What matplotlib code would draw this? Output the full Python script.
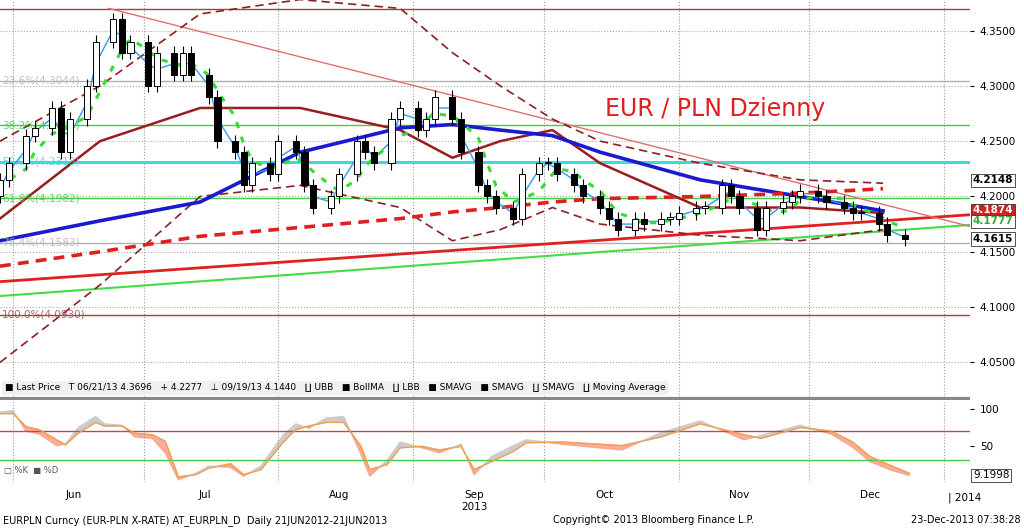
import numpy as np
import pandas as pd
import matplotlib
matplotlib.use("Agg")
import matplotlib.pyplot as plt
import matplotlib.dates as mdates

# ---------------------------------------------------------------- data
closes = [4.200, 4.215, 4.230, 4.255, 4.262, 4.280, 4.240, 4.270, 4.300, 4.340,
          4.360, 4.330, 4.340, 4.300, 4.330, 4.310, 4.330, 4.310, 4.290, 4.250,
          4.240, 4.210, 4.230, 4.220, 4.250, 4.240, 4.210, 4.190, 4.200, 4.220,
          4.250, 4.240, 4.230, 4.270, 4.280, 4.260, 4.270, 4.290, 4.270, 4.240,
          4.210, 4.200, 4.190, 4.180, 4.220, 4.230, 4.230, 4.220, 4.210, 4.200,
          4.190, 4.180, 4.170, 4.180, 4.175, 4.180, 4.180, 4.185, 4.190, 4.190,
          4.210, 4.200, 4.190, 4.170, 4.190, 4.195, 4.200, 4.205, 4.200, 4.195,
          4.190, 4.185, 4.185, 4.175, 4.165, 4.1615]

line_dates = ["2013-05-29", "2013-06-21", "2013-07-14", "2013-08-06", "2013-08-29",
              "2013-09-10", "2013-09-21", "2013-10-03", "2013-10-14", "2013-11-06",
              "2013-11-29", "2013-12-18"]
sma_slow = [4.160, 4.178, 4.195, 4.240, 4.262, 4.265, 4.260, 4.255, 4.240, 4.215, 4.200, 4.187]
boll_ma = [4.180, 4.250, 4.280, 4.280, 4.260, 4.235, 4.250, 4.260, 4.230, 4.190, 4.190, 4.185]
ubb = [4.250, 4.300, 4.365, 4.378, 4.370, 4.330, 4.300, 4.270, 4.250, 4.230, 4.215, 4.212]
lbb = [4.050, 4.120, 4.200, 4.210, 4.190, 4.160, 4.170, 4.190, 4.175, 4.165, 4.160, 4.170]
ma_red = [4.137, 4.150, 4.164, 4.172, 4.180, 4.186, 4.190, 4.195, 4.198, 4.200, 4.203, 4.207]

trend_dates = ["2013-05-29", "2014-01-20"]
trend_red = [4.123, 4.187]
trend_green = [4.110, 4.178]
trend_down_dates = ["2013-06-23", "2014-01-20"]
trend_down = [4.370, 4.160]

fib_levels = [4.3696, 4.3044, 4.2644, 4.2313, 4.1982, 4.1583, 4.0930]
fib_labels = ["0.0%(4.3696)", "23.6%(4.3044)", "38.2%(4.2644)", "50.0%(4.2313)",
              "61.8%(4.1982)", "76.4%(4.1583)", "100.0%(4.0930)"]
fib_colors = ["#a04040", "#b0b0b0", "#44cc44", "#40d8e0", "#44cc44", "#b0b0b0", "#a04040"]

stoch_dates = ["2013-05-29", "2013-06-01", "2013-06-04", "2013-06-07", "2013-06-11",
               "2013-06-13", "2013-06-16", "2013-06-20", "2013-06-22", "2013-06-26",
               "2013-06-29", "2013-07-03", "2013-07-06", "2013-07-09", "2013-07-13",
               "2013-07-16", "2013-07-21", "2013-07-24", "2013-07-28", "2013-08-02",
               "2013-08-05", "2013-08-08", "2013-08-12", "2013-08-16", "2013-08-20",
               "2013-08-22", "2013-08-26", "2013-08-29", "2013-09-03", "2013-09-07",
               "2013-09-12", "2013-09-15", "2013-09-19", "2013-09-24", "2013-09-27",
               "2013-10-05", "2013-10-19", "2013-10-28", "2013-11-06", "2013-11-16",
               "2013-11-20", "2013-11-29", "2013-12-06", "2013-12-11", "2013-12-15",
               "2013-12-20", "2013-12-24"]
stoch_d = [94, 94, 76, 72, 58, 51, 67, 82, 77, 77, 67, 65, 56, 7, 10, 19, 25, 10, 17,
           54, 72, 77, 82, 82, 49, 17, 24, 47, 49, 44, 49, 17, 28, 42, 54,
           55, 50, 62, 80, 65, 60, 75, 70, 55, 35, 22, 12]
stoch_k = [96, 98, 70, 66, 50, 52, 75, 90, 80, 78, 62, 60, 40, 3, 12, 22, 20, 8, 22,
           64, 80, 74, 88, 90, 38, 8, 30, 55, 47, 40, 52, 10, 35, 50, 58,
           52, 44, 68, 84, 58, 64, 78, 66, 48, 28, 16, 9]

month_ticks = ["2013-06-15", "2013-07-15", "2013-08-15", "2013-09-15", "2013-10-15",
               "2013-11-15", "2013-12-15"]
month_labels = ["Jun", "Jul", "Aug", "Sep\n2013", "Oct", "Nov", "Dec"]
month_starts = ["2013-06-01", "2013-07-01", "2013-08-01", "2013-09-01", "2013-10-01",
                "2013-11-01", "2013-12-01", "2014-01-01"]

# ---------------------------------------------------------------- figure
fig = plt.figure(figsize=(10.24, 5.30), dpi=100)
W, H = 1024, 530
ax = fig.add_axes([0, 1 - 400 / H, 970 / W, 400 / H])
ax2 = fig.add_axes([0, 1 - 482 / H, 970 / W, 80 / H])
xmin, xmax = mdates.datestr2num("2013-05-29"), mdates.datestr2num("2014-01-07")

dates = pd.bdate_range("2013-05-23", "2013-12-23")[::2]
dates = dates[-len(closes):]
xd = mdates.date2num(dates.to_pydatetime())
cl = np.array(closes)
op = np.r_[cl[0] - 0.01, cl[:-1]]

for a in (ax, ax2):
    a.set_xlim(xmin, xmax)
    for m in month_starts:
        a.axvline(mdates.datestr2num(m), color="#999999", ls=":", lw=0.8)
    a.yaxis.tick_right()
    a.tick_params(axis="y", labelsize=7.5, length=3, pad=4)
    a.set_xticks([])
    for s in a.spines.values():
        s.set_visible(False)

ax.set_ylim(4.0160, 4.3776)
yt = [4.05, 4.10, 4.15, 4.20, 4.25, 4.30, 4.35]
ax.set_yticks(yt)
ax.set_yticklabels([f"{v:.4f}" for v in yt])
for v in yt:
    ax.axhline(v, color="#aaaaaa", ls=":", lw=0.8)

for lv, lab, c in zip(fib_levels, fib_labels, fib_colors):
    ax.axhline(lv, color=c, lw=2.2 if c == "#40d8e0" else 1.0)
    if lab.startswith("0.0"):
        continue
    ax.text(xmin + 0.5, lv, lab, color=c, fontsize=7.5, va="center", alpha=0.8)

td = mdates.datestr2num(trend_dates)
ax.plot(td, trend_red, color="#e02020", lw=2)
ax.plot(td, trend_green, color="#44dd44", lw=1.5)
ax.plot(mdates.datestr2num(trend_down_dates), trend_down, color="#e07070", lw=1)

ld = mdates.datestr2num(line_dates)
ax.plot(ld, ubb, color="#8b2020", ls=(0, (5, 3)), lw=1.2)
ax.plot(ld, lbb, color="#8b2020", ls=(0, (5, 3)), lw=1.2)
ax.plot(ld, boll_ma, color="#9b1c1c", lw=1.8)
ax.plot(ld, sma_slow, color="#1a1ad0", lw=2.6)
ax.plot(ld, ma_red, color="#e02020", ls=(0, (3, 2)), lw=2.6)

s = pd.Series(cl)
ax.plot(xd, s.rolling(2, min_periods=1).mean(), color="#3399ee", lw=1)
ax.plot(xd, s.rolling(4, min_periods=1).mean(), color="#33dd33", ls=(0, (2, 3)), lw=2.2)

for x, o, c in zip(xd, op, cl):
    lo, hi = min(o, c), max(o, c)
    ax.vlines(x, lo - 0.006, hi + 0.006, color="black", lw=0.8, zorder=4)
    ax.bar(x, max(hi - lo, 0.001), bottom=lo, width=1.4,
           color="black" if c < o else "white", edgecolor="black", lw=0.7, zorder=5)

ax.text(mdates.datestr2num("2013-10-15"), 4.279, "EUR / PLN Dzienny",
        color="#e02020", fontsize=17, va="center")

for v, fc, tc in [(4.2148, "white", "black"), (4.1874, "#d02020", "white"),
                  (4.1777, "white", "#33aa33"), (4.1615, "white", "black")]:
    ax.text(1.003, v, f"{v:.4f}", transform=ax.get_yaxis_transform(), fontsize=7.5,
            fontweight="bold", color=tc, va="center", ha="left",
            bbox=dict(boxstyle="square,pad=0.15", fc=fc, ec="#333333", lw=0.6),
            clip_on=False)

ax.text(0.005, 4.027, "\u25a0 Last Price   T 06/21/13 4.3696   + 4.2277   \u22a5 09/19/13 4.1440   "
        "\u2210 UBB   \u25a0 BollMA   \u2210 LBB   \u25a0 SMAVG   \u25a0 SMAVG   \u2210 SMAVG   "
        "\u2210 Moving Average", transform=ax.get_yaxis_transform(), fontsize=6.5,
        va="center", bbox=dict(fc="#f0f0f0", ec="none", pad=2))
ax.axhline(4.0165, color="#888888", lw=3)

# stochastic pane
ax2.set_ylim(0, 110)
ax2.set_yticks([50, 100])
ax2.axhline(70, color="#cc4444", lw=1)
ax2.axhline(30, color="#44cc44", lw=1)
sd = mdates.datestr2num(stoch_dates)
k, d = np.array(stoch_k), np.array(stoch_d)
ax2.fill_between(sd, k, d, where=k >= d, color="#cccccc", interpolate=True)
ax2.fill_between(sd, k, d, where=k < d, color="#f7a08a", interpolate=True, alpha=0.85)
ax2.plot(sd, d, color="#f0a050", lw=1)
ax2.text(1.003, 9.2, "9.1998", transform=ax2.get_yaxis_transform(), fontsize=7.5,
         va="center", bbox=dict(boxstyle="square,pad=0.15", fc="white", ec="#333333", lw=0.6))
ax2.text(xmin + 1, 12, "\u25a1 %K  \u25a0 %D", fontsize=6, color="#555555")

ax2.set_xticks(mdates.datestr2num(month_ticks))
ax2.set_xticklabels(month_labels, fontsize=7.5)
ax2.tick_params(axis="x", length=0, pad=6)
ax2.text(mdates.datestr2num("2014-01-02"), -14, "| 2014", fontsize=7.5, va="top")

fig.text(0.003, 0.018, "EURPLN Curncy (EUR-PLN X-RATE) AT_EURPLN_D  Daily 21JUN2012-21JUN2013",
         fontsize=7, va="center")
fig.text(0.54, 0.018, "Copyright\u00a9 2013 Bloomberg Finance L.P.", fontsize=7, va="center")
fig.text(0.997, 0.018, "23-Dec-2013 07:38:28", fontsize=7, va="center", ha="right")

fig.savefig("out.png", dpi=100)
